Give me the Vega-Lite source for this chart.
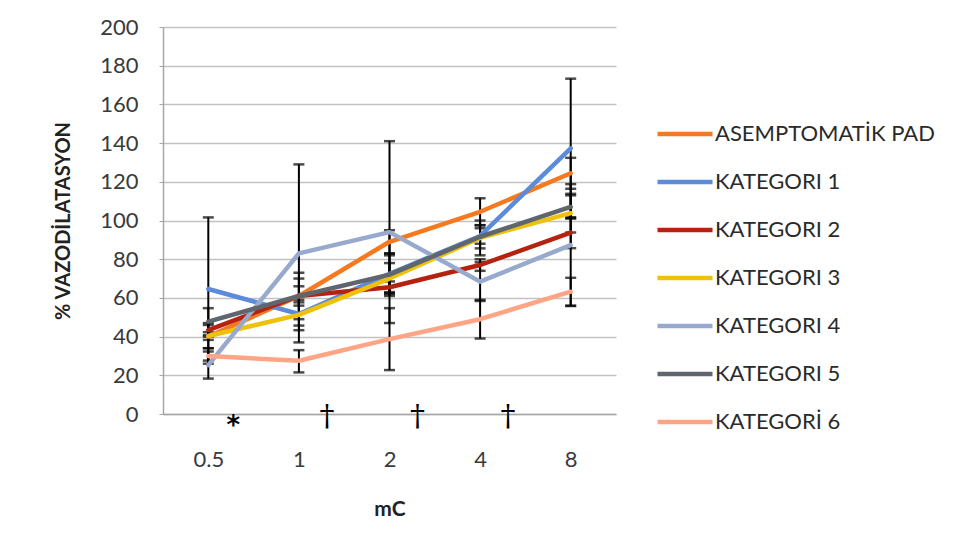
{
  "$schema": "https://vega.github.io/schema/vega-lite/v6.json",
  "width": 453,
  "height": 387,
  "autosize": {"type": "none"},
  "padding": {"left": 163, "top": 27, "right": 349, "bottom": 143},
  "background": "white",
  "config": {
    "font": "Lato",
    "view": {"stroke": null},
    "axis": {"labelFont": "Lato", "titleFont": "Lato", "labelColor": "#3a3a3a", "titleColor": "#222222", "domainColor": "#A6A6A6", "domainWidth": 1.5, "tickColor": "#A6A6A6", "gridColor": "#C2C2C2", "gridWidth": 1.5},
    "axisY": {"tickCount": 10, "labelOverlap": false, "labelBound": false}
  },
  "datasets": {
    "series": [
      {"mC": "0.5", "group": "ASEMPTOMATİK PAD", "mean": 40, "lo": 34, "hi": 46},
      {"mC": "1", "group": "ASEMPTOMATİK PAD", "mean": 61, "lo": 49, "hi": 73},
      {"mC": "2", "group": "ASEMPTOMATİK PAD", "mean": 89, "lo": 83, "hi": 95},
      {"mC": "4", "group": "ASEMPTOMATİK PAD", "mean": 104.5, "lo": 97.5, "hi": 111.5},
      {"mC": "8", "group": "ASEMPTOMATİK PAD", "mean": 124.4, "lo": 116.4, "hi": 132.4},
      {"mC": "0.5", "group": "KATEGORI 1", "mean": 64.6, "lo": 27.6, "hi": 101.6},
      {"mC": "1", "group": "KATEGORI 1", "mean": 51.7, "lo": 45.7, "hi": 57.7},
      {"mC": "2", "group": "KATEGORI 1", "mean": 72.5, "lo": 63, "hi": 82},
      {"mC": "4", "group": "KATEGORI 1", "mean": 92, "lo": 88, "hi": 96},
      {"mC": "8", "group": "KATEGORI 1", "mean": 137.3, "lo": 101.3, "hi": 173.3},
      {"mC": "0.5", "group": "KATEGORI 2", "mean": 43.4, "lo": 40, "hi": 47},
      {"mC": "1", "group": "KATEGORI 2", "mean": 61, "lo": 56, "hi": 66},
      {"mC": "2", "group": "KATEGORI 2", "mean": 65.5, "lo": 62, "hi": 68.5},
      {"mC": "4", "group": "KATEGORI 2", "mean": 77, "lo": 74, "hi": 80},
      {"mC": "8", "group": "KATEGORI 2", "mean": 93.7, "lo": 85.7, "hi": 101.7},
      {"mC": "0.5", "group": "KATEGORI 3", "mean": 40.3, "lo": 38.3, "hi": 42.3},
      {"mC": "1", "group": "KATEGORI 3", "mean": 51.2, "lo": 43.3, "hi": 59},
      {"mC": "2", "group": "KATEGORI 3", "mean": 70, "lo": 62.5, "hi": 78},
      {"mC": "4", "group": "KATEGORI 3", "mean": 91, "lo": 82, "hi": 100},
      {"mC": "8", "group": "KATEGORI 3", "mean": 103.8, "lo": 93.8, "hi": 113.8},
      {"mC": "0.5", "group": "KATEGORI 4", "mean": 25.3, "lo": 18.3, "hi": 32.3},
      {"mC": "1", "group": "KATEGORI 4", "mean": 83, "lo": 37, "hi": 129},
      {"mC": "2", "group": "KATEGORI 4", "mean": 94, "lo": 47, "hi": 141},
      {"mC": "4", "group": "KATEGORI 4", "mean": 68.4, "lo": 58.4, "hi": 78.4},
      {"mC": "8", "group": "KATEGORI 4", "mean": 87.3, "lo": 55.8, "hi": 118.8},
      {"mC": "0.5", "group": "KATEGORI 5", "mean": 47.7, "lo": 40.7, "hi": 54.7},
      {"mC": "1", "group": "KATEGORI 5", "mean": 61, "lo": 52, "hi": 70},
      {"mC": "2", "group": "KATEGORI 5", "mean": 72, "lo": 61, "hi": 83},
      {"mC": "4", "group": "KATEGORI 5", "mean": 91.6, "lo": 85.6, "hi": 97.6},
      {"mC": "8", "group": "KATEGORI 5", "mean": 107, "lo": 101, "hi": 113},
      {"mC": "0.5", "group": "KATEGORİ 6", "mean": 30, "lo": 26, "hi": 34},
      {"mC": "1", "group": "KATEGORİ 6", "mean": 27.5, "lo": 21.5, "hi": 33},
      {"mC": "2", "group": "KATEGORİ 6", "mean": 38.7, "lo": 22.7, "hi": 54.7},
      {"mC": "4", "group": "KATEGORİ 6", "mean": 49, "lo": 39, "hi": 59},
      {"mC": "8", "group": "KATEGORİ 6", "mean": 63.2, "lo": 56, "hi": 70.4}
    ],
    "stars": [
      {"mC": "0.5", "sym": "*"}
    ],
    "daggers": [
      {"mC": "1", "sym": "†"},
      {"mC": "2", "sym": "†"},
      {"mC": "4", "sym": "†"}
    ]
  },
  "data": {"name": "series"},
  "encoding": {
    "x": {
      "field": "mC", "type": "ordinal", "sort": ["0.5", "1", "2", "4", "8"],
      "scale": {"type": "point", "padding": 0.5},
      "axis": {"title": "mC", "labelAngle": 0, "labelFontSize": 22, "labelPadding": 35, "ticks": false, "domain": true, "grid": false, "titleFontSize": 21, "titleFontWeight": "bold", "titlePadding": 28}
    }
  },
  "layer": [
    {
      "mark": {"type": "rule", "color": "black", "strokeWidth": 2},
      "encoding": {
        "y": {"field": "lo", "type": "quantitative", "scale": {"domain": [0, 200], "nice": false},
          "axis": {"title": "% VAZODİLATASYON", "grid": true, "tickSize": 4, "labelPadding": 21, "labelFontSize": 22, "titleFontSize": 20, "titleFontWeight": "bold", "titlePadding": 26}},
        "y2": {"field": "hi"}
      }
    },
    {
      "mark": {"type": "tick", "color": "black", "thickness": 2.5, "size": 11, "orient": "horizontal"},
      "encoding": {"y": {"field": "lo", "type": "quantitative"}}
    },
    {
      "mark": {"type": "tick", "color": "black", "thickness": 2.5, "size": 11, "orient": "horizontal"},
      "encoding": {"y": {"field": "hi", "type": "quantitative"}}
    },
    {
      "mark": {"type": "line", "strokeWidth": 4.5, "interpolate": "linear", "strokeCap": "round", "strokeJoin": "round"},
      "encoding": {
        "y": {"field": "mean", "type": "quantitative"},
        "color": {
          "field": "group", "type": "nominal",
          "scale": {
            "domain": ["ASEMPTOMATİK PAD", "KATEGORI 1", "KATEGORI 2", "KATEGORI 3", "KATEGORI 4", "KATEGORI 5", "KATEGORİ 6"],
            "range": ["#F5791F", "#5B8BD9", "#B52310", "#EEC20B", "#97A9CC", "#60666D", "#FFA585"]
          },
          "legend": {
            "title": null, "orient": "none", "legendX": 492, "legendY": 77,
            "symbolType": "stroke", "symbolSize": 3025, "symbolStrokeWidth": 4.5,
            "labelFont": "Lato", "labelFontSize": 22, "labelColor": "#2a2a2a", "labelOffset": 0,
            "rowPadding": 7, "padding": 0, "labelLimit": 400
          }
        },
        "order": {"value": 0}
      }
    },
    {
      "data": {"name": "stars"},
      "mark": {"type": "text", "fontSize": 26, "fontWeight": "bold", "dx": 25, "dy": 12, "baseline": "middle", "color": "black", "font": "DejaVu Sans"},
      "encoding": {
        "y": {"datum": 0, "type": "quantitative"},
        "text": {"field": "sym"}
      }
    },
    {
      "data": {"name": "daggers"},
      "mark": {"type": "text", "fontSize": 30, "dx": 28, "dy": 3, "baseline": "middle", "color": "black", "font": "DejaVu Serif"},
      "encoding": {
        "y": {"datum": 0, "type": "quantitative"},
        "text": {"field": "sym"}
      }
    }
  ]
}
